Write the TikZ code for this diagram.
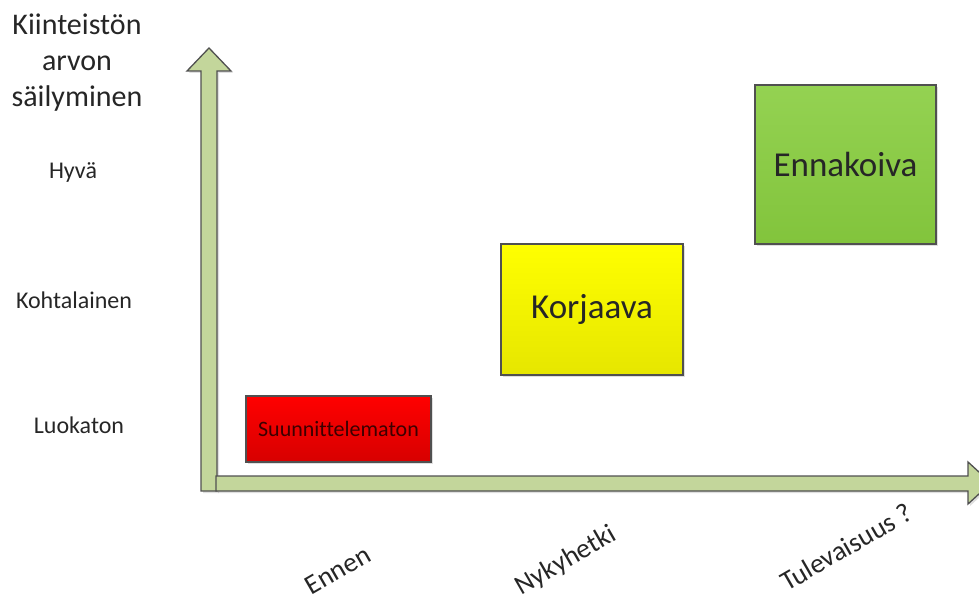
\documentclass[tikz,border=0pt]{standalone}
\usepackage{fontspec}
\setmainfont{Carlito}[Ligatures=NoCommon]
\usetikzlibrary{shadows}

\definecolor{axisfill}{HTML}{C3D69B}
\definecolor{axisline}{HTML}{505050}
\definecolor{labeltext}{HTML}{262626}

\begin{document}
\begin{tikzpicture}[
    x=1pt, y=-1pt,
    axis/.style={fill=axisfill, draw=axisline, line width=1.3pt, line join=miter,
        drop shadow={opacity=0.25, shadow xshift=2pt, shadow yshift=-2pt}},
    box/.style={draw=axisline, line width=1.2pt, inner sep=0pt,
        drop shadow={opacity=0.25, shadow xshift=2pt, shadow yshift=-2pt}},
    level/.style={text=labeltext, font=\fontsize{24}{28}\selectfont},
    era/.style={text=labeltext, font=\fontsize{27.5}{32}\selectfont, rotate=30}
]
\useasboundingbox (0,0) rectangle (979,599);
\begin{scope}
\clip (0,0) rectangle (979,599);
% axes
\draw[axis] (201,491) -- (201,71) -- (187,71) -- (209,48) -- (231,71)
    -- (217,71) -- (217,491) -- cycle;
\draw[axis] (216,476) -- (968,476) -- (968,462) -- (991,483) -- (968,504)
    -- (968,491) -- (216,491) -- cycle;
\end{scope}

% title of the vertical axis
\node[text=labeltext, align=center, font=\fontsize{30}{36}\selectfont] (title) at (77,63)
    {Kiinteistön\\arvon\\säilyminen};

% levels
\node[level] (good) at (73,172) {Hyvä};
\node[level] (mid) at (74,300) {Kohtalainen};
\node[level] (low) at (79,425) {Luokaton};

% stages
\node[box, top color=red, bottom color={rgb,255:red,215;green,0;blue,0},
    minimum width=185pt, minimum height=66pt, text={rgb,255:red,60;green,0;blue,0},
    font=\fontsize{22}{26}\selectfont] (unplanned) at (338.5,429) {Suunnittelematon};
\node[box, top color=yellow, bottom color={rgb,255:red,230;green,230;blue,0},
    minimum width=182pt, minimum height=131pt, text=black!85,
    font=\fontsize{35}{40}\selectfont] (corrective) at (592,309.5) {Korjaava};
\node[box, top color={rgb,255:red,148;green,210;blue,82},
    bottom color={rgb,255:red,130;green,196;blue,60},
    minimum width=181pt, minimum height=159pt, text=black!85,
    font=\fontsize{35}{40}\selectfont] (predictive) at (845.5,164.5) {Ennakoiva};

% time
\node[era] (before) at (338,570) {Ennen};
\node[era] (now) at (566,561) {Nykyhetki};
\node[era] (future) at (846,547) {Tulevaisuus ?};
\end{tikzpicture}
\end{document}
